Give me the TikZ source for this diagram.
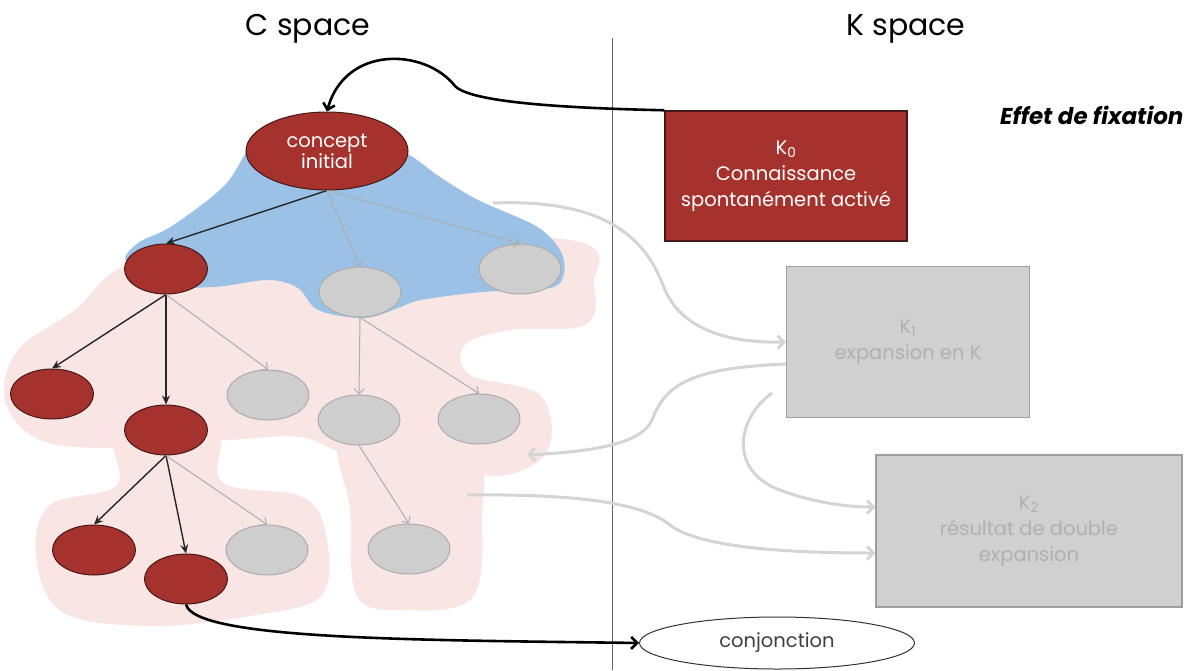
\documentclass[tikz,border=0pt]{standalone}
\usepackage{fontspec}
\setmainfont{Poppins}
\usetikzlibrary{positioning,arrows.meta,shapes.geometric}

\definecolor{conceptred}{RGB}{166,50,46}
\definecolor{conceptedge}{RGB}{70,25,22}
\definecolor{nodegray}{RGB}{206,206,206}
\definecolor{nodeedge}{RGB}{172,172,172}
\definecolor{boxgray}{RGB}{208,208,208}
\definecolor{boxedge}{RGB}{158,158,158}
\definecolor{boxtext}{RGB}{176,176,176}
\definecolor{fixblue}{RGB}{155,194,230}
\definecolor{zonepink}{RGB}{250,229,229}
\definecolor{flowgray}{RGB}{212,212,212}

\tikzset{
  redc/.style={ellipse, draw=conceptedge, fill=conceptred, line width=1pt,
    minimum width=83pt, minimum height=50pt, inner sep=0pt},
  grayc/.style={ellipse, draw=nodeedge, fill=nodegray, line width=1pt,
    minimum width=82pt, minimum height=50pt, inner sep=0pt},
  kbox/.style={rectangle, align=center, font=\fontsize{19.5}{26}\selectfont},
  blackedge/.style={-{Stealth[length=9pt,width=8pt,inset=3pt]}, line width=1.4pt, black!85},
  grayedge/.style={-{Straight Barb[length=5pt,width=10pt]}, line width=1pt, nodeedge},
  flow/.style={-{Straight Barb[length=6pt,width=13pt]}, line width=3pt, flowgray},
  bigarrow/.style={-{Straight Barb[length=6pt,width=12pt]}, line width=2.6pt, black}
}

\begin{document}
\begin{tikzpicture}[x=1pt,y=-1pt]
  \useasboundingbox (0,0) rectangle (1195,670);

  % zones
  \fill[zonepink] plot[smooth cycle, tension=0.6] coordinates {(135,262) (300,240) (570,240) (594,285) (585,325) (510,330) (465,345) (470,375) (540,395) (548,450) (500,476) (430,462) (350,455) (300,437) (230,440) (120,448) (40,440) (5,400) (18,350) (75,310)};
  \fill[zonepink] plot[smooth cycle, tension=0.6] coordinates {(120,410) (215,425) (222,482) (300,496) (325,530) (322,595) (250,616) (150,626) (62,612) (36,555) (50,505) (116,486) (112,440)};
  \fill[zonepink] plot[smooth cycle, tension=0.6] coordinates {(345,432) (470,445) (482,520) (472,598) (405,610) (357,596) (350,510)};
  \fill[fixblue] plot[smooth cycle, tension=0.55] coordinates {(262,135) (330,128) (400,150) (440,177) (478,200) (536,226) (560,250) (564,273) (550,288) (482,292) (421,300) (398,308) (364,318) (318,310) (298,288) (268,280) (214,287) (160,285) (126,262) (138,243) (172,226) (225,185)};

  % divider and titles
  \draw[black!60, line width=1pt] (612,38) -- (612,670);
  \node[font=\fontsize{30}{33}\selectfont] (cspace) at (308,29) {C space};
  \node[font=\fontsize{30}{33}\selectfont] (kspace) at (906,29) {K space};
  \node[anchor=east, font=\fontsize{23}{27}\selectfont\bfseries\itshape] (fixation) at (1187,115) {Effet de fixation};

  % concepts
  \node[redc, minimum width=162pt, minimum height=78pt, text=white, align=center,
    font=\fontsize{19.5}{21}\selectfont] (ci) at (327,151) {concept\\initial};
  \node[redc] (a) at (166,269) {};
  \node[grayc] (b) at (360,292) {};
  \node[grayc] (c) at (520,269) {};
  \node[redc] (d) at (52,394) {};
  \node[redc] (e) at (166,430) {};
  \node[grayc] (f) at (268,395) {};
  \node[grayc] (g) at (359,420) {};
  \node[grayc] (h) at (479,419) {};
  \node[redc] (i) at (94,550) {};
  \node[redc] (j) at (186,579) {};
  \node[grayc] (k) at (267,550) {};
  \node[grayc] (l) at (409,549) {};

  \draw[blackedge] (ci.south) -- (a.north);
  \draw[grayedge] (ci.south) -- (b.north);
  \draw[grayedge] (ci.south) -- (c.north);
  \draw[blackedge] (a.south) -- (d.north);
  \draw[blackedge] (a.south) -- (e.north);
  \draw[grayedge] (a.south) -- (f.north);
  \draw[grayedge] (b.south) -- (g.north);
  \draw[grayedge] (b.south) -- (h.north);
  \draw[blackedge] (e.south) -- (i.north);
  \draw[blackedge] (e.south) -- (j.north);
  \draw[grayedge] (e.south) -- (k.north);
  \draw[grayedge] (g.south) -- (l.north);

  % knowledge
  \node[kbox, fill=conceptred, draw=conceptedge, line width=1.5pt, text=white,
    minimum width=242pt, minimum height=130pt] (k0) at (786,176) {K\textsubscript{0}\\Connaissance\\spontanément activé};
  \node[kbox, fill=boxgray, draw=boxedge, line width=1.5pt, text=boxtext,
    minimum width=243pt, minimum height=151pt] (k1) at (908,342) {K\textsubscript{1}\\expansion en K};
  \node[kbox, fill=boxgray, draw=boxedge, line width=1.5pt, text=boxtext,
    minimum width=306pt, minimum height=152pt] (k2) at (1029,531) {K\textsubscript{2}\\résultat de double\\expansion};
  \node[ellipse, draw=black!80, fill=white, line width=1pt, minimum width=275pt, minimum height=52pt,
    font=\fontsize{19.5}{22}\selectfont, text=black!75] (conj) at (777,643) {conjonction};

  % flows between spaces
  \coordinate (fromc) at (493,203);
  \coordinate (toc) at (527,455);
  \coordinate (fromk) at (772,393);
  \coordinate (fromc2) at (467,495);
  \draw[flow] (fromc) .. controls (620,198) and (650,250) .. (665,290) .. controls (685,335) and (740,343) .. (k1.west);
  \draw[flow] ([yshift=-22pt]k1.west) .. controls (690,368) and (665,385) .. (652,420) .. controls (640,447) and (580,452) .. (toc);
  \draw[flow] (fromk) .. controls (735,420) and (730,472) .. (780,490) .. controls (812,502) and (845,507) .. ([yshift=24pt]k2.west);
  \draw[flow] (fromc2) .. controls (560,494) and (640,500) .. (670,525) .. controls (700,548) and (790,553) .. ([yshift=-22pt]k2.west);

  % fixation and conjunction
  \draw[bigarrow] (k0.north west) .. controls (560,108) and (470,102) .. (455,86) .. controls (425,48) and (345,45) .. (ci.north);
  \draw[bigarrow] (j.south) .. controls (195,640) and (420,640) .. (conj.west);
\end{tikzpicture}
\end{document}
